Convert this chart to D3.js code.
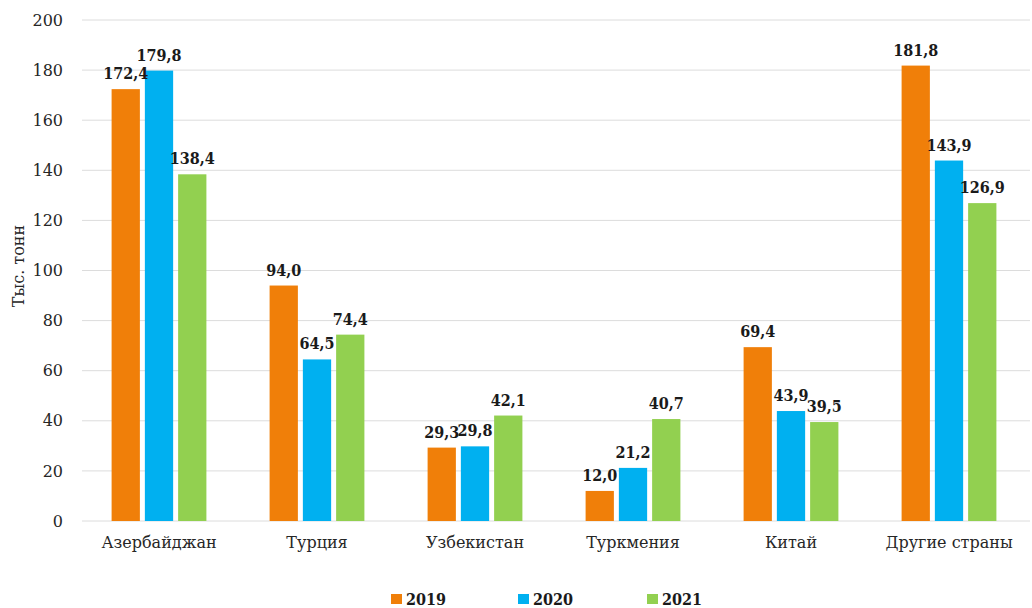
<!DOCTYPE html>
<html>
<head>
<meta charset="utf-8">
<script src="https://cdn.jsdelivr.net/npm/d3@7"></script>
<style>
  body { margin: 0; background: #fff; }
  svg text { font-family: "DejaVu Serif", serif; }
  svg text.bold { font-family: "DejaVu Serif Condensed", "DejaVu Serif", serif; font-stretch: condensed; font-weight: bold; }
</style>
</head>
<body>
<script>
// chart data
const countries = ['Азербайджан', 'Турция', 'Узбекистан', 'Туркмения', 'Китай', 'Другие страны'];
const years = ['2019', '2020', '2021'];
const values2019 = [172.4, 94.0, 29.3, 12.0, 69.4, 181.8];
const values2020 = [179.8, 64.5, 29.8, 21.2, 43.9, 143.9];
const values2021 = [138.4, 74.4, 42.1, 40.7, 39.5, 126.9];
const yTicks = [0, 20, 40, 60, 80, 100, 120, 140, 160, 180, 200];
const colors = ['#f07f09', '#00b0f0', '#92d050'];

const seriesValues = [values2019, values2020, values2021];

const width = 1032;
const height = 608;

const svg = d3.select('body')
              .append('svg')
              .attr('width', width)
              .attr('height', height);

const x0 = d3.scaleBand()
             .domain(countries)
             .range([80, 1028])
             .paddingInner(0.4)
             .paddingOuter(0.2);

const x1 = d3.scaleBand()
             .domain(years)
             .range([0, x0.bandwidth()])
             .paddingInner(0.15);

const y = d3.scaleLinear()
            .domain([0, 200])
            .range([521, 20]);

const fmt = v => v.toFixed(1).replace('.', ',');

// gridlines
svg.append('g')
   .selectAll('line')
   .data(yTicks)
   .enter()
   .append('line')
   .attr('x1', 82)
   .attr('x2', 1030)
   .attr('y1', d => y(d))
   .attr('y2', d => y(d))
   .attr('stroke', '#dcdcdc')
   .attr('stroke-width', 1);

// y axis labels
const yAxis = d3.axisLeft(y).tickValues(yTicks).tickSize(0).tickPadding(0);
const yAxisG = svg.append('g')
                  .attr('transform', 'translate(63,0)')
                  .call(yAxis)
                  .attr('font-family', null);
yAxisG.select('.domain').remove();
yAxisG.selectAll('text')
      .style('font-size', '16px')
      .attr('fill', '#262626');

// x axis labels
const xAxis = d3.axisBottom(x0).tickSize(0).tickPadding(0);
const xAxisG = svg.append('g')
                  .attr('transform', 'translate(0,537)')
                  .call(xAxis)
                  .attr('font-family', null);
xAxisG.select('.domain').remove();
xAxisG.selectAll('text')
      .style('font-size', '16px')
      .attr('fill', '#262626');

// y title
svg.append('text')
   .attr('transform', 'translate(24,266) rotate(-90)')
   .attr('text-anchor', 'middle')
   .style('font-size', '16px')
   .attr('fill', '#262626')
   .text('Тыс. тонн');

// bars
const groups = svg.selectAll('g.group')
                  .data(countries)
                  .enter()
                  .append('g')
                  .attr('class', 'group')
                  .attr('transform', d => `translate(${x0(d)},0)`);

groups.selectAll('rect')
      .data((c, i) => years.map((yr, j) => ({ yr, j, v: seriesValues[j][i] })))
      .enter()
      .append('rect')
      .attr('x', d => x1(d.yr))
      .attr('y', d => y(d.v))
      .attr('width', x1.bandwidth())
      .attr('height', d => y(0) - y(d.v))
      .attr('fill', d => colors[d.j]);

groups.selectAll('text.val')
      .data((c, i) => years.map((yr, j) => ({ yr, j, v: seriesValues[j][i] })))
      .enter()
      .append('text')
      .attr('class', 'val bold')
      .attr('x', d => x1(d.yr) + x1.bandwidth() / 2)
      .attr('y', d => y(d.v) - 10)
      .attr('text-anchor', 'middle')
      .style('font-size', '16px')
      .attr('fill', '#1a1a1a')
      .text(d => fmt(d.v));

// legend
const legendX = [391, 518, 647];
const legend = svg.selectAll('g.legend')
                  .data(years)
                  .enter()
                  .append('g')
                  .attr('class', 'legend')
                  .attr('transform', (d, i) => `translate(${legendX[i]},0)`);

legend.append('rect')
      .attr('x', 0)
      .attr('y', 594)
      .attr('width', 11)
      .attr('height', 10)
      .attr('fill', (d, i) => colors[i]);

legend.append('text')
      .attr('class', 'bold')
      .attr('x', 15)
      .attr('y', 605)
      .style('font-size', '16px')
      .attr('fill', '#1a1a1a')
      .text(d => d);
</script>
</body>
</html>
